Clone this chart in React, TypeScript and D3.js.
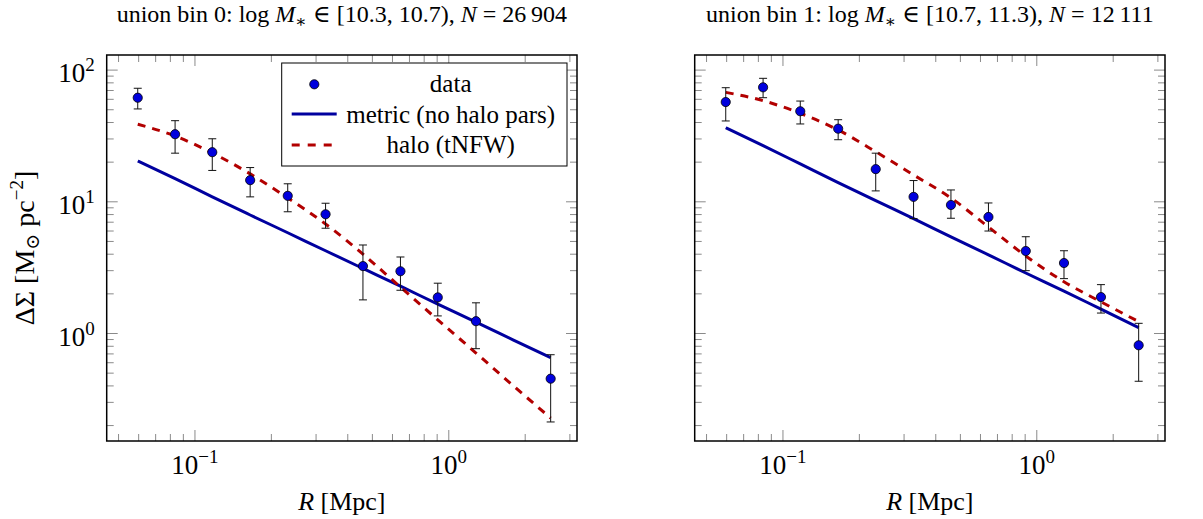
import * as d3 from 'd3';
import React from 'react';

const width = 1203;
const height = 519;
const plotTop = 55;
const plotW = 470.3;
const plotH = 386;
const panelLefts = [106.7, 694.7];
const font = '"Liberation Serif", "DejaVu Serif", serif';
const dataBlue = '#0000dd';
const metricBlue = '#00009f';
const haloRed = '#b20000';
const tickGray = '#8a8a8a';

// radial bins [Mpc], model curves are drawn on all of them
const radii = [0.0595, 0.0835, 0.117, 0.165, 0.232, 0.327, 0.459, 0.645, 0.905, 1.28, 1.79, 2.52];
const xDomain = [0.0449, 3.2];
const yDomain = [0.1527, 130.2];

// bin 0: no point at R ~ 1.8 Mpc
const bin0Radii = [0.0595, 0.0835, 0.117, 0.165, 0.232, 0.327, 0.459, 0.645, 0.905, 1.28, 2.52];
const bin0Signal = [61.7, 32.6, 23.8, 14.6, 11.1, 8.04, 3.25, 2.97, 1.88, 1.24, 0.454];
const bin0Upper = [72.8, 41.3, 30.1, 18.2, 13.7, 9.75, 4.7, 3.81, 2.41, 1.71, 0.69];
const bin0Lower = [50.7, 23.4, 17.3, 10.9, 8.4, 6.3, 1.8, 2.13, 1.36, 0.767, 0.213];
const bin0Metric = [20.4, 15.0, 10.9, 7.94, 5.82, 4.25, 3.12, 2.29, 1.67, 1.22, 0.896, 0.655];
const bin0Halo = [38.8, 31.6, 23.5, 16.3, 10.7, 6.78, 4.01, 2.25, 1.27, 0.711, 0.403, 0.228];

// bin 1
const bin1Radii = radii;
const bin1Signal = [57.2, 74.0, 48.7, 35.9, 17.7, 10.9, 9.46, 7.67, 4.23, 3.43, 1.89, 0.814];
const bin1Upper = [73.5, 86.6, 58.2, 42.0, 23.4, 14.5, 12.3, 9.8, 5.43, 4.25, 2.35, 1.195];
const bin1Lower = [41.1, 61.7, 39.0, 29.6, 12.1, 7.45, 7.5, 6.0, 3.0, 2.61, 1.43, 0.434];
const bin1Metric = [36.5, 26.7, 19.4, 14.0, 10.2, 7.45, 5.42, 3.96, 2.88, 2.1, 1.53, 1.11];
const bin1Halo = [67.8, 58.6, 47.0, 35.1, 24.0, 16.0, 10.7, 6.44, 3.88, 2.47, 1.74, 1.23];

const binLabels = ['0', '1'];
const massRanges = ['[10.3, 10.7)', '[10.7, 11.3)'];
const counts = ['26\u2009904', '12\u2009111'];
const legendLabels = ['data', 'metric (no halo pars)', 'halo (tNFW)'];

const xScale = d3.scaleLog().domain(xDomain).range([0, plotW]);
const yScale = d3.scaleLog().domain(yDomain).range([plotH, 0]);

const isDecade = (v: number) => Math.abs(Math.log10(v) - Math.round(Math.log10(v))) < 1e-9;
const expText = (v: number) => {
  const e = Math.round(Math.log10(v));
  return e < 0 ? `\u2212${-e}` : `${e}`;
};

function Power({ exp, ...rest }: any) {
  return (
    <text {...rest}>
      10<tspan dy={-11} fontSize={19}>{exp}</tspan>
    </text>
  );
}

function Panel({ idx, rs, signal, upper, lower, metric, halo, showY, showLegend }: any) {
  const left = panelLefts[idx];
  const line = d3
    .line<number>()
    .x((_, i) => xScale(radii[i]))
    .y(d => yScale(d))
    .curve(d3.curveMonotoneX);
  const xTicks = xScale.ticks();
  const yTicks = yScale.ticks();

  return (
    <g transform={`translate(${left},${plotTop})`}>
      <text x={plotW / 2} y={22 - plotTop} textAnchor="middle" fontSize={24}>
        union bin {binLabels[idx]}: log <tspan fontStyle="italic">M</tspan>
        <tspan dy={5} fontSize={17}>∗</tspan>
        <tspan dy={-5}> ∈ {massRanges[idx]}, </tspan>
        <tspan fontStyle="italic">N</tspan> = {counts[idx]}
      </text>

      {/* ticks, inward on all four sides */}
      {xTicks.map(t => {
        const len = isDecade(t) ? 11 : 7;
        const x = xScale(t);
        return (
          <g key={'x' + t} stroke={tickGray} strokeWidth={1}>
            <line x1={x} x2={x} y1={plotH} y2={plotH - len} />
            <line x1={x} x2={x} y1={0} y2={len} />
          </g>
        );
      })}
      {yTicks.map(t => {
        const len = isDecade(t) ? 11 : 7;
        const y = yScale(t);
        return (
          <g key={'y' + t} stroke={tickGray} strokeWidth={1}>
            <line x1={0} x2={len} y1={y} y2={y} />
            <line x1={plotW} x2={plotW - len} y1={y} y2={y} />
          </g>
        );
      })}

      {xTicks.filter(isDecade).map(t => (
        <Power key={'xl' + t} x={xScale(t)} y={plotH + 33} textAnchor="middle" fontSize={27} exp={expText(t)} />
      ))}
      {showY &&
        yTicks.filter(isDecade).map(t => (
          <Power key={'yl' + t} x={-12} y={yScale(t) + 12} textAnchor="end" fontSize={27} exp={expText(t)} />
        ))}

      <path d={line(metric) || ''} fill="none" stroke={metricBlue} strokeWidth={3} />
      <path d={line(halo) || ''} fill="none" stroke={haloRed} strokeWidth={3} strokeDasharray="8 7" />

      {rs.map((r: number, i: number) => {
        const x = xScale(r);
        return (
          <g key={'d' + i}>
            <g stroke="#111" strokeWidth={1}>
              <line x1={x} x2={x} y1={yScale(upper[i])} y2={yScale(lower[i])} />
              <line x1={x - 4} x2={x + 4} y1={yScale(upper[i])} y2={yScale(upper[i])} />
              <line x1={x - 4} x2={x + 4} y1={yScale(lower[i])} y2={yScale(lower[i])} />
            </g>
            <circle cx={x} cy={yScale(signal[i])} r={4.6} fill={dataBlue} stroke="#000" strokeWidth={0.8} />
          </g>
        );
      })}

      {showLegend && (
        <g fontSize={25}>
          <rect x={175} y={8} width={285.3} height={103} fill="#fff" stroke="#000" strokeWidth={1} />
          <circle cx={207.6} cy={29.3} r={4.6} fill={dataBlue} stroke="#000" strokeWidth={0.8} />
          <line x1={185} x2={230} y1={59} y2={59} stroke={metricBlue} strokeWidth={3} />
          <line x1={185} x2={230} y1={90} y2={90} stroke={haloRed} strokeWidth={3} strokeDasharray="8 8" />
          {legendLabels.map((l, i) => (
            <text key={l} x={344} y={29.3 + i * 30.4 + 8} textAnchor="middle">{l}</text>
          ))}
        </g>
      )}

      <rect x={0} y={0} width={plotW} height={plotH} fill="none" stroke="#000" strokeWidth={1.5} />

      <text x={plotW / 2} y={510 - plotTop} textAnchor="middle" fontSize={26}>
        <tspan fontStyle="italic">R</tspan> [Mpc]
      </text>
      {showY && (
        <text transform={`translate(${34 - left},${plotH / 2}) rotate(-90)`} textAnchor="middle" fontSize={28}>
          ΔΣ [M<tspan dy={5} fontSize={19}>⊙</tspan>
          <tspan dy={-5}> pc</tspan>
          <tspan dy={-11} fontSize={19}>−2</tspan>
          <tspan dy={11}>]</tspan>
        </text>
      )}
    </g>
  );
}

export default function App() {
  return (
    <svg width={width} height={height} fontFamily={font}
      style={{ position: 'absolute', left: 0, top: 0, background: '#fff' }}>
      <Panel idx={0} rs={bin0Radii} signal={bin0Signal} upper={bin0Upper} lower={bin0Lower}
        metric={bin0Metric} halo={bin0Halo} showY showLegend />
      <Panel idx={1} rs={bin1Radii} signal={bin1Signal} upper={bin1Upper} lower={bin1Lower}
        metric={bin1Metric} halo={bin1Halo} showY={false} showLegend={false} />
    </svg>
  );
}
